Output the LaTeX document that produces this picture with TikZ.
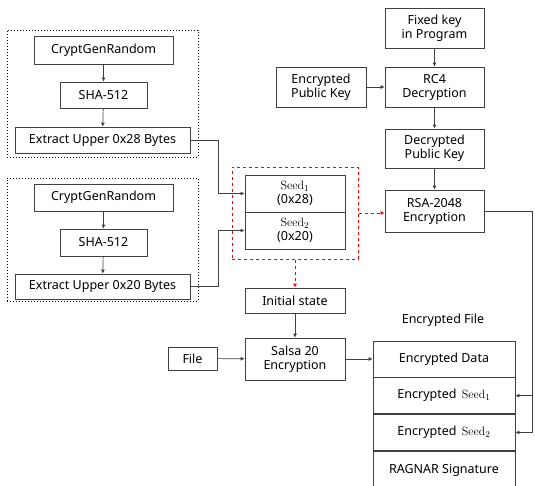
\documentclass[tikz,border=0pt]{standalone}
\usepackage[no-math]{fontspec}
\setmainfont{Noto Sans}
\usetikzlibrary{arrows.meta}

\tikzset{
  box/.style={draw=black!75, line width=0.7pt, align=center, inner sep=1pt,
    font=\fontsize{12.5}{14}\selectfont},
  dotbox/.style={draw=black, line width=1pt, dotted},
  redbox/.style={draw=red, line width=1pt, dashed},
  line/.style={draw=black!75, line width=0.7pt},
  arr/.style={line, -{Latex[length=4pt,width=4pt]}},
  redarr/.style={draw=red, line width=1pt, dashed, -{Latex[length=4pt,width=4pt]}}
}

\begin{document}
\begin{tikzpicture}[x=1pt,y=-1pt]
\useasboundingbox (0,0) rectangle (535,485);

% left groups
\node[dotbox, minimum width=191, minimum height=127] (grpA) at (102.5,93.5) {};
\node[dotbox, minimum width=191, minimum height=123] (grpB) at (102.5,239.5) {};
\node[box, minimum width=139, minimum height=28] (cgrA) at (103.5,50) {CryptGenRandom};
\node[box, minimum width=87, minimum height=26] (shaA) at (103.5,95) {SHA-512};
\node[box, minimum width=175, minimum height=26] (extA) at (102.5,140) {Extract Upper 0x28 Bytes};
\node[box, minimum width=139, minimum height=27] (cgrB) at (103.5,197.5) {CryptGenRandom};
\node[box, minimum width=87, minimum height=27] (shaB) at (103.5,242.5) {SHA-512};
\node[box, minimum width=175, minimum height=25] (extB) at (102.5,286.5) {Extract Upper 0x20 Bytes};
\draw[arr] (cgrA) -- (shaA);
\draw[arr] (shaA) -- (extA);
\draw[arr] (cgrB) -- (shaB);
\draw[arr] (shaB) -- (extB);

% seeds
\node[redbox, minimum width=126, minimum height=92] (seeds) at (295,213) {};
\node[box, minimum width=100, minimum height=37] (seedA) at (295,193.5) {$\mathrm{Seed}_1$\\(0x28)};
\node[box, minimum width=100, minimum height=37] (seedB) at (295,230.5) {$\mathrm{Seed}_2$\\(0x20)};
\draw[arr] (extA.east) -- ++(28,0) |- (seedA.west);
\draw[arr] (extB.east) -- ++(28,0) |- (seedB.west);

% public key
\node[box, minimum width=99, minimum height=40] (fixed) at (434.5,28) {Fixed key\\in Program};
\node[box, minimum width=99, minimum height=40] (rcfour) at (434.5,87) {RC4\\Decryption};
\node[box, minimum width=90, minimum height=40] (encpk) at (321,87) {Encrypted\\Public Key};
\node[box, minimum width=99, minimum height=39] (decpk) at (434.5,148.5) {Decrypted\\Public Key};
\node[box, minimum width=99, minimum height=42] (rsa) at (434.5,211) {RSA-2048\\Encryption};
\draw[arr] (fixed) -- (rcfour);
\draw[arr] (encpk) -- (rcfour);
\draw[arr] (rcfour) -- (decpk);
\draw[arr] (decpk) -- (rsa);
\draw[redarr] (seeds.east) -- (seeds.east -| rsa.west);

% salsa
\node[box, minimum width=100, minimum height=25] (init) at (295,300.5) {Initial state};
\node[box, minimum width=100, minimum height=42] (salsa) at (295,359) {Salsa 20\\Encryption};
\node[box, minimum width=49, minimum height=23] (file) at (192.5,358.5) {File};
\draw[redarr] (seeds.south) -- (init.north);
\draw[arr] (init) -- (salsa);
\draw[arr] (file) -- (salsa);

% encrypted file
\node[font=\fontsize{12.5}{14}\selectfont] (eflabel) at (443,320) {Encrypted File};
\node[box, minimum width=142, minimum height=36] (data) at (444,359) {Encrypted Data};
\node[box, minimum width=142, minimum height=36, anchor=north] (encA) at (data.south) {Encrypted \,$\mathrm{Seed}_1$};
\node[box, minimum width=142, minimum height=36, anchor=north] (encB) at (encA.south) {Encrypted \,$\mathrm{Seed}_2$};
\node[box, minimum width=142, minimum height=38, anchor=north] (sign) at (encB.south) {RAGNAR Signature};
\draw[arr] (salsa.east) -- (salsa.east -| data.west);
\coordinate (bus) at ([xshift=48pt]rsa.east);
\draw[arr] (rsa.east) -- (bus) |- (encB.east);
\draw[arr] (bus |- encA.east) -- (encA.east);
\end{tikzpicture}
\end{document}
